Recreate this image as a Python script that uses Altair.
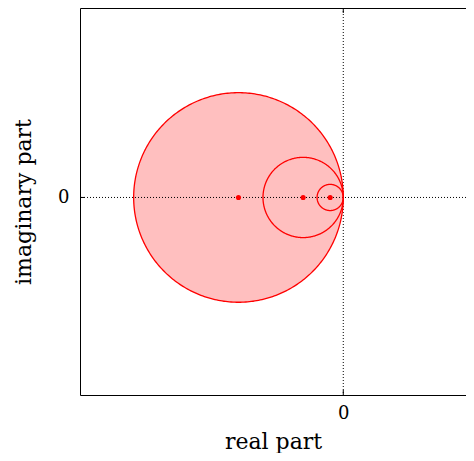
import numpy as np
import pandas as pd
import altair as alt

# ---- data ----
circle_id = ["big", "medium", "small"]
centers_re = [-1.0, -0.383, -0.125]
centers_im = [0.0, 0.0, 0.0]
radii = [1.0, 0.383, 0.125]
filled = [True, False, False]

x_domain = [-2.512, 1.171]
y_domain = [-1.885, 1.808]
x_ticks = [0]
y_ticks = [0]
x_title = "real part"
y_title = "imaginary part"

W, H = 386, 387
RED = "#ff0000"
PINK = "#ffbfbf"
FONT = "DejaVu Serif"

# circle outlines (parametric geometry from centre + radius)
theta = np.linspace(0, 2 * np.pi, 361)
rows = []
for cid, cx, cy, r in zip(circle_id, centers_re, centers_im, radii):
    for i, t in enumerate(theta):
        rows.append({"id": cid, "i": i, "re": cx + r * np.cos(t), "im": cy + r * np.sin(t)})
outline = pd.DataFrame(rows)

frows = []
tt = np.linspace(np.pi, 0, 361)
for cid, cx, cy, r, f in zip(circle_id, centers_re, centers_im, radii, filled):
    if not f:
        continue
    for t in tt:
        frows.append({"id": cid, "re": cx + r * np.cos(t), "lo": cy - r * np.sin(t), "hi": cy + r * np.sin(t)})
fill_df = pd.DataFrame(frows)

centers = pd.DataFrame({"id": circle_id, "re": centers_re, "im": centers_im})
zero_x = pd.DataFrame({"re": x_ticks})
zero_y = pd.DataFrame({"im": y_ticks})

xs = alt.Scale(domain=x_domain, nice=False, zero=False)
ys = alt.Scale(domain=y_domain, nice=False, zero=False)

x_bottom = alt.Axis(values=x_ticks, orient="bottom", tickSize=0, labelPadding=9,
                    title=x_title, titlePadding=9, grid=False)
x_top = alt.Axis(values=x_ticks, orient="top", tickSize=0, labels=False, title=None, grid=False)
y_left = alt.Axis(values=y_ticks, orient="left", tickSize=0, labelPadding=11,
                  title=y_title, titlePadding=22, grid=False)

fill = alt.Chart(fill_df).mark_area(color=PINK, opacity=1).encode(
    x=alt.X("re:Q", scale=xs, axis=x_bottom),
    y=alt.Y("lo:Q", scale=ys, axis=y_left),
    y2="hi:Q",
    detail="id:N",
)

top_frame = alt.Chart(zero_x).mark_rule(opacity=0).encode(
    x=alt.X("re:Q", scale=xs, axis=x_top),
)

vline = alt.Chart(zero_x).mark_rule(color="black", strokeDash=[1, 2], strokeWidth=1).encode(
    x=alt.X("re:Q", scale=xs, axis=None)
)
hline = alt.Chart(zero_y).mark_rule(color="black", strokeDash=[1, 2], strokeWidth=1).encode(
    y=alt.Y("im:Q", scale=ys, axis=y_left)
)

tick_b = alt.Chart(zero_x).mark_rule(color="black").encode(
    x=alt.X("re:Q", scale=xs, axis=None), y=alt.value(H), y2=alt.value(H - 5))
tick_t = alt.Chart(zero_x).mark_rule(color="black").encode(
    x=alt.X("re:Q", scale=xs, axis=None), y=alt.value(0), y2=alt.value(5))
tick_l = alt.Chart(zero_y).mark_rule(color="black").encode(
    y=alt.Y("im:Q", scale=ys, axis=y_left), x=alt.value(0), x2=alt.value(5))

lines = alt.Chart(outline).mark_line(color=RED, strokeWidth=1.3).encode(
    x=alt.X("re:Q", scale=xs, axis=None),
    y=alt.Y("im:Q", scale=ys, axis=y_left),
    detail="id:N",
    order="i:Q",
)

dots = alt.Chart(centers).mark_circle(color=RED, size=26, opacity=1).encode(
    x=alt.X("re:Q", scale=xs, axis=None),
    y=alt.Y("im:Q", scale=ys, axis=y_left),
)

chart = alt.layer(fill, top_frame, vline, hline, tick_b, tick_t, tick_l, lines, dots).resolve_axis(
    x="independent"
).properties(
    width=W, height=H,
    autosize=alt.AutoSizeParams(type="none"),
    padding={"left": 72, "top": 0, "right": 0, "bottom": 58},
).configure_view(stroke=None).configure_axis(
    domainColor="black", domainWidth=1,
    labelFont=FONT, labelFontSize=18, labelColor="black",
    titleFont=FONT, titleFontSize=22, titleFontWeight="normal", titleColor="black",
)

chart.save("out.html", embed_options={"renderer": "svg", "actions": False})
